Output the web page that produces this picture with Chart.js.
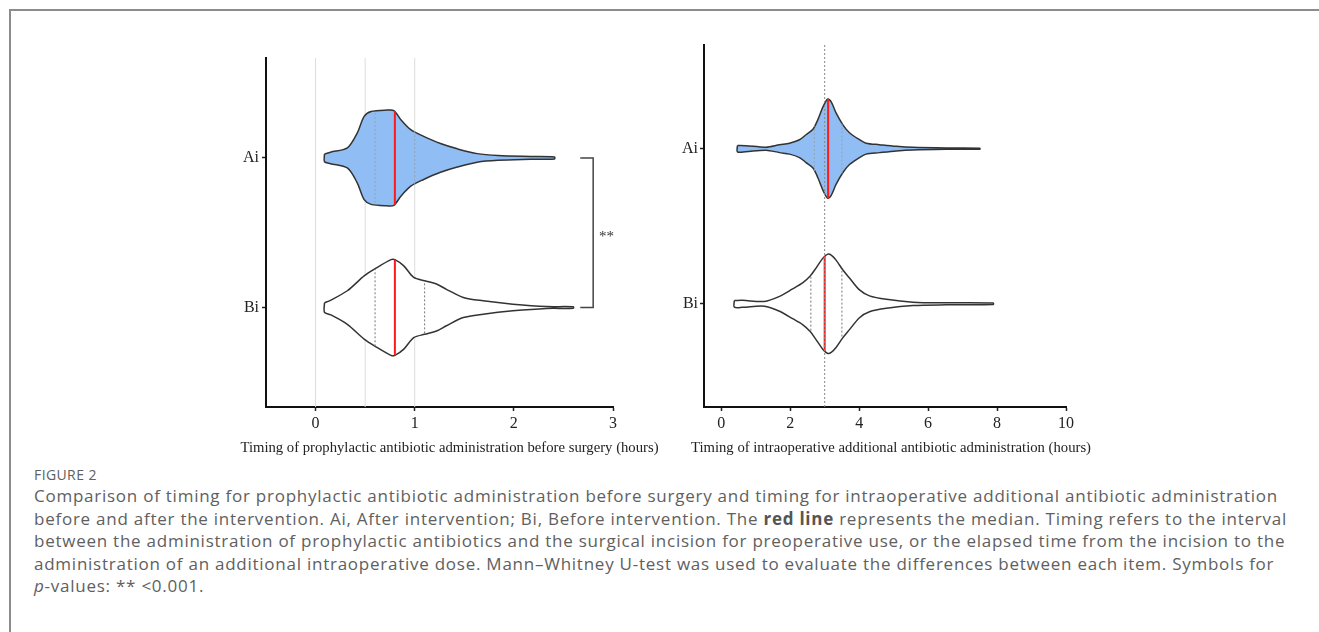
<!DOCTYPE html>
<html>
<head>
<meta charset="utf-8">
<script src="https://cdn.jsdelivr.net/npm/chart.js@4.4.0/dist/chart.umd.min.js"></script>
<style>
  html, body { margin: 0; background: #fff; width: 1319px; height: 632px; overflow: hidden; }
  body { position: relative; }
  #frame { position: absolute; left: 9px; top: 9px; width: 1330px; height: 640px;
           border-left: 2px solid #8c8c8c; border-top: 2px solid #8c8c8c; }
  #leftBox { position: absolute; left: 200px; top: 40px; width: 470px; height: 420px; }
  #rightBox { position: absolute; left: 670px; top: 30px; width: 640px; height: 430px; }
  #caption { position: absolute; left: 34px; top: 465px; font-family: 'Open Sans', sans-serif; color: #606060; }
  #caption .fig { font-size: 14px; line-height: 20px; letter-spacing: 0.4px; }
  #caption .body { font-size: 17px; line-height: 22.5px; letter-spacing: 0.75px; white-space: pre; }
  #caption b { color: #555; }
</style>
</head>
<body>
<div id="frame"></div>
<div id="leftBox"><canvas id="leftChart"></canvas></div>
<div id="rightBox"><canvas id="rightChart"></canvas></div>
<div id="caption">
  <div class="fig">FIGURE 2</div>
  <div class="body">Comparison of timing for prophylactic antibiotic administration before surgery and timing for intraoperative additional antibiotic administration
before and after the intervention. Ai, After intervention; Bi, Before intervention. The <b>red line</b> represents the median. Timing refers to the interval
between the administration of prophylactic antibiotics and the surgical incision for preoperative use, or the elapsed time from the incision to the
administration of an additional intraoperative dose. Mann&ndash;Whitney U-test was used to evaluate the differences between each item. Symbols for
<i>p</i>-values: ** &lt;0.001.</div>
</div>
<script>
// groups on the y axis (Bi at 1, Ai at 2)
var groups = ['Bi', 'Ai'];
var groupPos = [1, 2];

// left panel: timing before surgery (hours), violin outline
var preAiHours   = [0.09, 0.15, 0.32, 0.42, 0.49, 0.56, 0.72, 0.79, 0.86, 0.96, 1.09, 1.26, 1.43, 1.63, 1.84, 2.17, 2.41];
var preAiDensity = [0.08, 0.12, 0.21, 0.52, 0.87, 0.97, 1.00, 0.99, 0.80, 0.59, 0.45, 0.30, 0.19, 0.09, 0.05, 0.03, 0.02];
var preBiHours   = [0.09, 0.15, 0.32, 0.49, 0.60, 0.76, 0.80, 0.89, 0.99, 1.10, 1.22, 1.32, 1.49, 1.69, 1.99, 2.33, 2.60];
var preBiDensity = [0.10, 0.15, 0.35, 0.66, 0.81, 1.00, 1.00, 0.87, 0.63, 0.56, 0.49, 0.38, 0.21, 0.14, 0.07, 0.02, 0.015];
var preMedian    = { Ai: 0.8, Bi: 0.8 };
var preMedianDen = { Ai: 0.98, Bi: 1.0 };
var preQuartiles = { Ai: [0.6, 1.0], Bi: [0.6, 1.1] };
var preQuartDen  = { Ai: [0.94, 0.57], Bi: [0.81, 0.54] };
var preRefLines  = [0, 0.5, 1];
var preTicks     = [0, 1, 2, 3];

// right panel: intraoperative redosing timing (hours)
var intraAiHours   = [0.47, 0.71, 1.30, 1.69, 1.98, 2.27, 2.46, 2.66, 2.80, 2.95, 3.09, 3.19, 3.33, 3.53, 3.72, 4.01, 4.20, 4.59, 5.08, 5.56, 6.53, 7.50];
var intraAiDensity = [0.064, 0.06, 0.03, 0.08, 0.11, 0.18, 0.28, 0.39, 0.58, 0.84, 1.00, 0.94, 0.72, 0.48, 0.32, 0.18, 0.11, 0.08, 0.046, 0.026, 0.014, 0.01];
var intraBiHours   = [0.38, 0.62, 1.25, 1.69, 2.07, 2.36, 2.58, 2.75, 2.95, 3.09, 3.19, 3.33, 3.53, 3.72, 4.01, 4.30, 4.79, 5.56, 6.53, 7.89];
var intraBiDensity = [0.067, 0.07, 0.047, 0.15, 0.30, 0.42, 0.56, 0.72, 0.92, 1.00, 0.98, 0.88, 0.68, 0.52, 0.28, 0.16, 0.09, 0.034, 0.02, 0.014];
var intraMedian    = { Ai: 3.1, Bi: 3.0 };
var intraMedianDen = { Ai: 1.0, Bi: 0.96 };
var intraQuartiles = { Ai: [2.7, 3.5], Bi: [2.6, 3.5] };
var intraQuartDen  = { Ai: [0.45, 0.5], Bi: [0.54, 0.66] };
var intraRefLines  = [3];
var intraTicks     = [0, 2, 4, 6, 8, 10];

var sigBracket = { from: 2.67, to: 2.8, label: '**' };

var yMin = 0.335, yMax = 2.668;
var halfWidth = 0.32;
var serif = 'Liberation Serif';

function violinPath(hours, dens, c) {
  var pts = [];
  for (var i = 0; i < hours.length; i++) pts.push({ x: hours[i], y: c + dens[i] * halfWidth });
  for (var j = hours.length - 1; j >= 0; j--) pts.push({ x: hours[j], y: c - dens[j] * halfWidth });
  pts.push(pts[0]);
  return pts;
}

function vSeg(x, c, d) {
  return [{ x: x, y: c - d * halfWidth }, { x: x, y: c + d * halfWidth }];
}

function lineSet(data, color, width, dash, order) {
  return { data: data, showLine: true, fill: false, borderColor: color, borderWidth: width,
           borderDash: dash || [], pointRadius: 0, tension: 0, order: order };
}

function buildDatasets(p) {
  var ds = [];
  p.ref.forEach(function (v) {
    ds.push(lineSet([{ x: v, y: yMin }, { x: v, y: yMax }], p.refColor, 1, p.refDash, p.refOrder));
  });
  ds.push({ data: violinPath(p.aiH, p.aiD, 2), showLine: true, fill: 'shape', backgroundColor: '#8fbdf4',
            borderColor: '#333', borderWidth: 1.5, pointRadius: 0, tension: 0.3, order: 5 });
  ds.push({ data: violinPath(p.biH, p.biD, 1), showLine: true, fill: 'shape', backgroundColor: '#ffffff',
            borderColor: '#333', borderWidth: 1.5, pointRadius: 0, tension: 0.3, order: 5 });
  ['Ai', 'Bi'].forEach(function (g) {
    var c = g === 'Ai' ? 2 : 1;
    p.q[g].forEach(function (x, k) {
      ds.push(lineSet(vSeg(x, c, p.qd[g][k]), g === 'Ai' ? '#9aa3ad' : '#777', 1, [2, 2], 3));
    });
    ds.push(lineSet(vSeg(p.med[g], c, p.medD[g]), '#ff1a1a', 2, null, 2));
  });
  if (p.bracket) {
    var b = p.bracket;
    ds.push(lineSet([{ x: b.from, y: 2 }, { x: b.to, y: 2 }, { x: b.to, y: 1 }, { x: b.from, y: 1 }], '#444', 1.5, null, 1));
  }
  return ds;
}

// significance stars and the x axis title (drawn without Chart.js squeezing it to the plot width)
var extraText = {
  id: 'extraText',
  afterDraw: function (chart, args, opts) {
    var ctx = chart.ctx, xs = chart.scales.x, ys = chart.scales.y;
    ctx.save();
    ctx.fillStyle = '#222';
    ctx.textAlign = 'center';
    ctx.textBaseline = 'middle';
    ctx.font = '14.7px ' + serif;
    ctx.fillText(opts.title, (xs.left + xs.right) / 2 + opts.shift, xs.bottom - 12);
    if (opts.sig) {
      ctx.fillStyle = '#333';
      ctx.textAlign = 'left';
      ctx.font = '15px ' + serif;
      ctx.fillText(opts.sig, xs.getPixelForValue(opts.sigX), ys.getPixelForValue(1.5) + 4);
    }
    ctx.restore();
  }
};

function makeChart(id, p) {
  return new Chart(document.getElementById(id), {
    type: 'scatter',
    data: { datasets: buildDatasets(p) },
    plugins: [extraText],
    options: {
      responsive: true,
      maintainAspectRatio: false,
      animation: false,
      layout: { padding: p.padding },
      plugins: {
        legend: { display: false },
        tooltip: { enabled: false },
        extraText: { title: p.title, shift: p.titleShift, sig: p.sig, sigX: p.sigX }
      },
      scales: {
        x: {
          type: 'linear', min: p.xMin, max: p.xMax,
          afterBuildTicks: function (s) { s.ticks = p.ticks.map(function (v) { return { value: v }; }); },
          afterFit: function (s) { s.height = 53; },
          grid: { display: true, drawOnChartArea: false, tickLength: 4, tickColor: '#222', tickWidth: 1.5 },
          border: { display: true, color: '#111', width: 2 },
          ticks: { color: '#222', font: { family: serif, size: 16 }, padding: 3, maxRotation: 0, autoSkip: false }
        },
        y: {
          type: 'linear', min: yMin, max: yMax,
          afterBuildTicks: function (s) { s.ticks = groupPos.map(function (v) { return { value: v }; }); },
          afterFit: function (s) { s.width = p.yWidth; },
          grid: { display: true, drawOnChartArea: false, tickLength: 4, tickColor: '#222', tickWidth: 1.5 },
          border: { display: true, color: '#111', width: 2 },
          ticks: { color: '#222', font: { family: serif, size: 16 }, padding: p.yPad,
                   callback: function (v, i) { return groups[i]; } }
        }
      }
    }
  });
}

makeChart('leftChart', {
  aiH: preAiHours, aiD: preAiDensity, biH: preBiHours, biD: preBiDensity,
  med: preMedian, medD: preMedianDen, q: preQuartiles, qd: preQuartDen,
  ref: preRefLines, refColor: '#dcdcdc', refDash: null, refOrder: 9,
  ticks: preTicks, xMin: -0.5, xMax: 3,
  title: 'Timing of prophylactic antibiotic administration before surgery (hours)', titleShift: 10,
  padding: { top: 18, right: 57, left: 0, bottom: 0 }, yWidth: 66, yPad: 3,
  bracket: sigBracket, sig: sigBracket.label, sigX: 2.86
});

makeChart('rightChart', {
  aiH: intraAiHours, aiD: intraAiDensity, biH: intraBiHours, biD: intraBiDensity,
  med: intraMedian, medD: intraMedianDen, q: intraQuartiles, qd: intraQuartDen,
  ref: intraRefLines, refColor: '#888', refDash: [2, 2], refOrder: 0,
  ticks: intraTicks, xMin: -0.5, xMax: 10,
  title: 'Timing of intraoperative additional antibiotic administration (hours)', titleShift: 6,
  padding: { top: 15, right: 244, left: 0, bottom: 0 }, yWidth: 34, yPad: 2
});
</script>
</body>
</html>
